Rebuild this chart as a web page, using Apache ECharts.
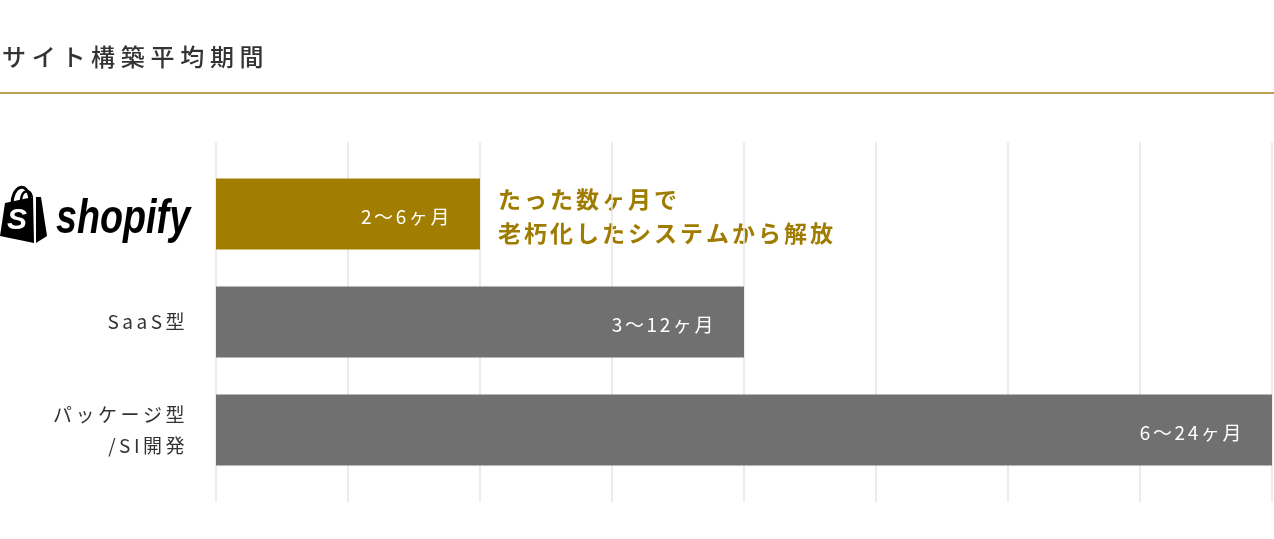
<!DOCTYPE html>
<html>
<head>
<meta charset="utf-8">
<script src="https://cdn.jsdelivr.net/npm/echarts@6/dist/echarts.min.js"></script>
<style>
html,body{margin:0;padding:0;background:#fff;}
#chart{width:1274px;height:539px;}
</style>
</head>
<body>
<div id="chart"></div>
<script>
const titleText = 'サイト構築平均期間';
const categories = ['shopify', 'SaaS型', 'パッケージ型\n/SI開発'];
const minMonths = [2, 3, 6];
const maxMonths = [6, 12, 24];
const barColors = ['#a17d00', '#707070', '#707070'];
const axisMin = 0, axisMax = 24, axisInterval = 3;
const noteLines = ['たった数ヶ月で', '老朽化したシステムから解放'];

const FONT = '"Noto Sans CJK JP", "Noto Sans", sans-serif';
function sp(str, key) {
  return str.split('\n').map(line => line.split('').map(c => '{' + key + '|' + c + '}').join('')).join('\n');
}

const chart = echarts.init(document.getElementById('chart'), null, {renderer: 'canvas'});

const option = {
  animation: false,
  backgroundColor: '#fff',
  grid: [
    {left: 216, right: 2, top: 142, bottom: 37},
    {left: 216, right: 2, top: 160, bottom: 55}
  ],
  xAxis: [
    {type: 'value', gridIndex: 0, min: axisMin, max: axisMax, interval: axisInterval,
     axisLine: {show: false}, axisTick: {show: false}, axisLabel: {show: false},
     splitLine: {show: true, lineStyle: {color: '#e6e6e6', width: 1.5}}},
    {type: 'value', gridIndex: 1, min: axisMin, max: axisMax, interval: axisInterval,
     axisLine: {show: false}, axisTick: {show: false}, axisLabel: {show: false},
     splitLine: {show: false}}
  ],
  yAxis: [
    {type: 'value', gridIndex: 0, min: 0, max: 1, show: false},
    {type: 'category', gridIndex: 1, inverse: true, data: categories,
     axisLine: {show: false}, axisTick: {show: false}, splitLine: {show: false},
     axisLabel: {
       margin: 28, align: 'right',
       formatter: v => v === 'shopify' ? '' : sp(v, 'y'),
       rich: {y: {fontFamily: FONT, fontSize: 19, color: '#333', padding: [0, 3.5, 0, 0], lineHeight: 31}}
     }}
  ],
  series: [{
    type: 'bar', xAxisIndex: 1, yAxisIndex: 1, barWidth: 71,
    data: maxMonths.map((v, i) => ({value: v, itemStyle: {color: barColors[i]}})),
    label: {
      show: true, position: 'insideRight', distance: 28, offset: [0, 3],
      formatter: p => sp(minMonths[p.dataIndex] + '〜' + maxMonths[p.dataIndex] + 'ヶ月', 'v'),
      rich: {v: {fontFamily: FONT, fontSize: 19, color: '#fff', padding: [0, 2.6, 0, 0]}}
    }
  }],
  graphic: [
    {type: 'text', x: 2, y: 57, style: {
      text: sp(titleText, 't'), verticalAlign: 'middle',
      rich: {t: {fontFamily: FONT, fontSize: 24, fontWeight: 500, fill: '#333', padding: [0, 5.7, 0, 0]}}
    }},
    {type: 'line', shape: {x1: 0, y1: 93, x2: 1274, y2: 93}, style: {stroke: '#a08214', lineWidth: 1.5}},
    {type: 'text', x: 498, y: 216, style: {
      text: sp(noteLines.join('\n'), 'n'), verticalAlign: 'middle',
      rich: {n: {fontFamily: FONT, fontSize: 23, fontWeight: 'bold', fill: '#9f7c00', padding: [0, 3, 0, 0], lineHeight: 34}}
    }},
    // shopify logo
    {type: 'bezierCurve', shape: {x1: 12, y1: 204, cpx1: 12, cpy1: 186, cpx2: 27, cpy2: 180, x2: 30, y2: 199}, style: {fill: null, stroke: '#000', lineWidth: 3}},
    {type: 'bezierCurve', shape: {x1: 21, y1: 200, cpx1: 22, cpy1: 190, cpx2: 30, cpy2: 188, x2: 32, y2: 197}, style: {fill: null, stroke: '#000', lineWidth: 2.5}},
    {type: 'polygon', shape: {points: [[5, 203], [33, 197], [34, 243], [0, 236]]}, style: {fill: '#000'}},
    {type: 'polygon', shape: {points: [[36, 197], [41, 197], [47, 236], [36, 243]]}, style: {fill: '#000'}},
    {type: 'text', x: 17, y: 221, style: {text: 'S', fill: '#fff', font: 'italic bold 30px "Liberation Sans", sans-serif', align: 'center', verticalAlign: 'middle'}},
    {type: 'text', x: 56, y: 219, scaleX: 0.77, style: {text: 'shopify', fill: '#000', font: 'italic bold 49px "Liberation Sans", sans-serif', verticalAlign: 'middle'}}
  ]
};
chart.setOption(option);
</script>
</body>
</html>
